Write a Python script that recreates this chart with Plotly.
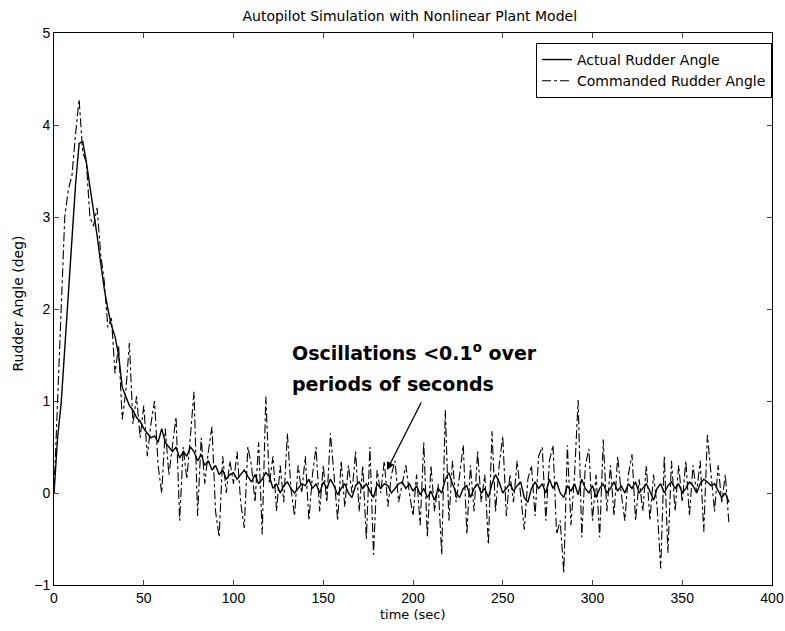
import plotly.graph_objects as go

# sample times (sec)
time_s = [
    0, 2, 4, 6, 8, 10, 12, 14, 16, 18, 20, 22, 24, 26, 28, 30, 32, 34, 36, 38,
    40, 42, 44, 46, 48, 50, 52, 54, 56, 58, 60, 62, 64, 66, 68, 70, 72, 74, 76, 78,
    80, 82, 84, 86, 88, 90, 92, 94, 96, 98, 100, 102, 104, 106, 108, 110, 112, 114, 116, 118,
    120, 122, 124, 126, 128, 130, 132, 134, 136, 138, 140, 142, 144, 146, 148, 150, 152, 154, 156, 158,
    160, 162, 164, 166, 168, 170, 172, 174, 176, 178, 180, 182, 184, 186, 188, 190, 192, 194, 196, 198,
    200, 202, 204, 206, 208, 210, 212, 214, 216, 218, 220, 222, 224, 226, 228, 230, 232, 234, 236, 238,
    240, 242, 244, 246, 248, 250, 252, 254, 256, 258, 260, 262, 264, 266, 268, 270, 272, 274, 276, 278,
    280, 282, 284, 286, 288, 290, 292, 294, 296, 298, 300, 302, 304, 306, 308, 310, 312, 314, 316, 318,
    320, 322, 324, 326, 328, 330, 332, 334, 336, 338, 340, 342, 344, 346, 348, 350, 352, 354, 356, 358,
    360, 362, 364, 366, 368, 370, 372, 374, 376,
]

# actual rudder angle (deg)
actual = [
    0.0, 0.6, 0.98, 1.6, 2.2, 2.8, 3.35, 3.8, 3.82, 3.6, 3.35, 3.1, 2.8, 2.5, 2.22, 2.0, 1.82, 1.7, 1.5, 1.15,
    1.05, 0.95, 0.9, 0.82, 0.78, 0.7, 0.65, 0.6, 0.62, 0.55, 0.7, 0.55, 0.5, 0.45, 0.5, 0.38, 0.45, 0.4, 0.5, 0.45,
    0.35, 0.42, 0.3, 0.35, 0.25, 0.3, 0.2, 0.25, 0.15, 0.2, 0.22, 0.15, 0.2, 0.25, 0.18, 0.12, 0.2, 0.1, 0.15, 0.22,
    0.18, 0.05, 0.1, 0.0, 0.08, 0.12, 0.05, 0.0, 0.05, 0.1, 0.08, 0.15, 0.05, 0.1, 0.0, 0.12, 0.05, 0.15, 0.08, -0.02,
    0.05, 0.1, 0.0, -0.05, 0.08, 0.12, 0.05, 0.1, 0.02, -0.05, 0.1, 0.05, 0.1, 0.08, 0.0, 0.05, 0.1, 0.12, 0.05, 0.1,
    0.02, 0.08, -0.02, 0.05, -0.05, 0.02, -0.08, 0.05, 0.0, 0.15, 0.22, 0.1, 0.0, -0.05, 0.05, 0.08, -0.05, 0.05, 0.1, 0.0,
    0.05, -0.05, 0.1, 0.2, 0.12, 0.0, 0.05, 0.1, 0.02, 0.08, 0.12, -0.05, -0.1, 0.05, 0.12, 0.05, 0.1, 0.0, 0.15, 0.05,
    0.12, 0.0, -0.05, 0.08, 0.02, 0.1, -0.02, 0.15, 0.05, 0.0, 0.08, -0.05, 0.05, 0.1, 0.0, 0.05, 0.12, 0.02, 0.08, 0.0,
    0.1, 0.05, 0.12, 0.0, 0.05, 0.1, 0.02, -0.08, 0.05, 0.1, 0.0, 0.08, 0.12, 0.05, 0.1, 0.0, 0.05, 0.12, 0.08, 0.0,
    0.1, 0.15, 0.12, 0.08, 0.1, 0.02, -0.05, 0.0, -0.1,
]

# commanded rudder angle (deg)
commanded = [
    0.0, 1.0, 2.0, 3.0, 3.3, 3.45, 3.9, 4.28, 3.7, 3.6, 3.0, 2.9, 3.1, 2.6, 2.3, 1.8, 1.9, 1.3, 1.6, 0.8,
    1.1, 1.63, 0.75, 1.05, 0.6, 0.95, 0.4, 0.75, 1.0, 0.3, 0.0, 0.7, 0.2, 0.55, 0.83, -0.3, 0.5, 0.15, 0.6, 1.1,
    -0.25, 0.6, 0.1, 0.45, 0.72, -0.2, -0.48, 0.4, 0.0, 0.35, 0.1, 0.45, -0.1, -0.38, 0.5, 0.3, -0.1, 0.55, -0.45, 1.05,
    0.1, 0.4, -0.2, 0.3, -0.1, 0.65, 0.05, -0.25, 0.3, 0.0, 0.4, -0.3, 0.2, 0.5, -0.2, 0.3, -0.1, 0.65, 0.2, -0.3,
    0.35, -0.15, 0.3, 0.0, 0.45, -0.2, 0.3, -0.5, 0.5, -0.67, 0.25, 0.0, 0.35, -0.15, 0.2, 0.35, -0.1, 0.1, 0.3, 0.0,
    -0.25, 0.2, -0.35, 0.55, -0.48, 0.3, -0.2, 0.1, -0.67, 0.9, -0.3, 0.35, -0.1, 0.2, 0.52, -0.45, 0.3, -0.2, 0.45, -0.1,
    0.2, -0.56, 0.67, -0.2, 0.3, 0.62, -0.25, 0.2, -0.1, 0.35, 0.0, -0.4, 0.15, 0.3, -0.25, 0.4, 0.5, -0.3, 0.35, 0.52,
    -0.45, -0.3, -0.87, 0.52, -0.35, 0.2, 1.01, -0.48, 0.3, 0.48, -0.3, 0.2, -0.48, 0.58, -0.2, 0.3, -0.25, 0.4, 0.0, -0.3,
    0.2, 0.42, -0.3, 0.15, -0.2, 0.3, -0.3, 0.2, -0.15, -0.82, 0.4, -0.65, 0.35, -0.2, 0.3, -0.1, 0.35, -0.25, 0.3, 0.0,
    0.35, -0.42, 0.63, 0.2, -0.2, 0.3, -0.1, 0.2, -0.33,
]

x_ticks = [0, 50, 100, 150, 200, 250, 300, 350, 400]
y_ticks = [-1, 0, 1, 2, 3, 4, 5]

tick_font = "Liberation Sans, Arial, sans-serif"
text_font = "DejaVu Sans, Verdana, sans-serif"

fig = go.Figure()
fig.add_trace(go.Scatter(x=time_s, y=actual, mode="lines", name="Actual Rudder Angle",
                         line=dict(color="black", width=1.4)))
fig.add_trace(go.Scatter(x=time_s, y=commanded, mode="lines", name="Commanded Rudder Angle",
                         line=dict(color="black", width=1.1, dash="dashdot")))

# bold note, one annotation per line so the spacing matches
note_font = dict(family=text_font, size=19, color="black", weight="bold")
fig.add_annotation(x=131.5, y=1.53, xref="x", yref="y", xanchor="left", yanchor="middle",
                   text="Oscillations &lt;0.1<sup>o</sup> over", showarrow=False, font=note_font)
fig.add_annotation(x=131.5, y=1.185, xref="x", yref="y", xanchor="left", yanchor="middle",
                   text="periods of seconds", showarrow=False, font=note_font)
fig.add_annotation(x=185.5, y=0.25, ax=205, ay=1.0, xref="x", yref="y", axref="x", ayref="y",
                   text="", showarrow=True, arrowhead=2, arrowsize=1.2, arrowwidth=1.3, arrowcolor="black")

# axis titles placed by hand
fig.add_annotation(x=0.5, y=-0.053, xref="paper", yref="paper", xanchor="center", yanchor="middle",
                   text="time (sec)", showarrow=False, font=dict(family=text_font, size=13))
fig.add_annotation(x=-0.05, y=0.51, xref="paper", yref="paper", xanchor="center", yanchor="middle",
                   text="Rudder Angle (deg)", textangle=-90, showarrow=False,
                   font=dict(family=text_font, size=14))

fig.update_layout(
    width=785, height=631,
    margin=dict(l=54, r=13, t=33, b=46, autoexpand=False),
    paper_bgcolor="white", plot_bgcolor="white",
    font=dict(family=tick_font, size=13, color="black"),
    title=dict(text="Autopilot Simulation with Nonlinear Plant Model", x=0.522, xanchor="center",
               y=0.975, yanchor="middle", automargin=False, font=dict(family=text_font, size=14)),
    showlegend=True,
    legend=dict(x=1.0, y=0.982, xanchor="right", yanchor="top", bgcolor="white",
                bordercolor="black", borderwidth=1, font=dict(family=text_font, size=14),
                tracegroupgap=0, itemwidth=30),
)
fig.update_xaxes(range=[0, 400], tickvals=x_ticks, ticks="inside", ticklen=5, mirror="ticks",
                 showline=True, linecolor="black", linewidth=1, showgrid=False, zeroline=False,
                 automargin=False, tickfont=dict(size=14))
fig.update_yaxes(range=[-1, 5], tickvals=y_ticks, ticks="inside", ticklen=5, mirror="ticks",
                 showline=True, linecolor="black", linewidth=1, showgrid=False, zeroline=False,
                 automargin=False, tickfont=dict(size=14))

# drop the default 8px page margin so the figure fills the window exactly
fig.write_html("out.html", config={"displayModeBar": False},
               post_script="document.body.style.margin='0';document.body.style.overflow='hidden';")
